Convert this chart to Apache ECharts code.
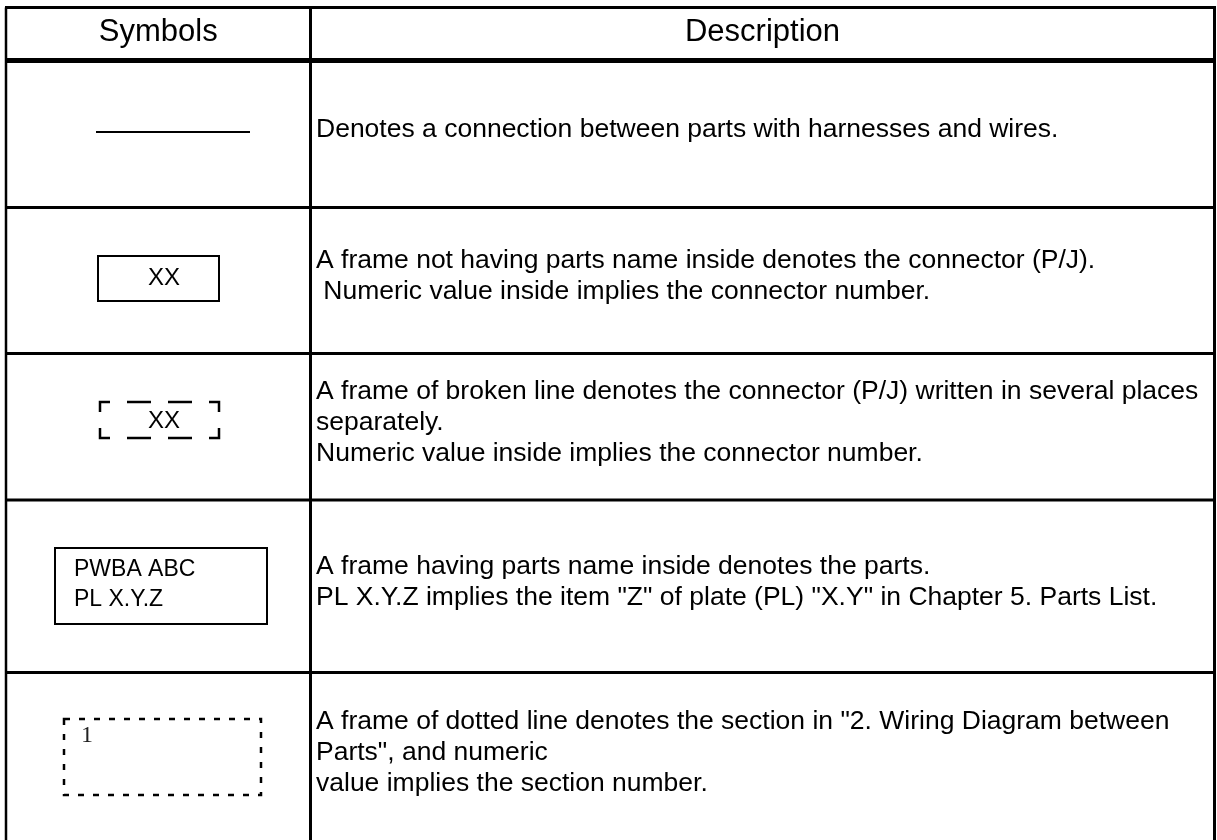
<!DOCTYPE html>
<html>
<head>
<meta charset="utf-8">
<script src="https://cdn.jsdelivr.net/npm/echarts@6/dist/echarts.min.js"></script>
<style>
html,body{margin:0;padding:0;background:#fff;}
#chart{width:1217px;height:840px;}
</style>
</head>
<body>
<div id="chart"></div>
<script>
// ---- content ----
const headers = ['Symbols', 'Description'];
const descriptions = [
  ['Denotes a connection between parts with harnesses and wires.'],
  ['A frame not having parts name inside denotes the connector (P/J).',
   ' Numeric value inside implies the connector number.'],
  ['A frame of broken line denotes the connector (P/J) written in several places',
   'separately.',
   'Numeric value inside implies the connector number.'],
  ['A frame having parts name inside denotes the parts.',
   'PL X.Y.Z implies the item "Z" of plate (PL) "X.Y" in Chapter 5. Parts List.'],
  ['A frame of dotted line denotes the section in "2. Wiring Diagram between',
   'Parts", and numeric',
   'value implies the section number.']
];
const symbolKinds = ['wire', 'connector', 'brokenConnector', 'part', 'section'];
const symbolTexts = ['', 'XX', 'XX', 'PWBA ABC\nPL X.Y.Z', '1'];

// ---- layout ----
const FONT = '"Liberation Sans", Arial, Helvetica, sans-serif';
const SERIF = '"Liberation Serif", "Times New Roman", serif';
const L = 6, DIV = 310.5, R = 1214.5, TOP = 7.5, HEAD = 60.5;
const rowLines = [207.5, 353.5, 500, 672.5];
const rowTops = [HEAD, 207.5, 353.5, 500, 672.5];
const rowBottoms = [207.5, 353.5, 500, 672.5, 840];
const descX = 316, descLH = 31, descSize = 26.5;

const g = [];
function line(x1, y1, x2, y2, w, dash) {
  g.push({type: 'line', shape: {x1, y1, x2, y2},
    style: {stroke: '#000', lineWidth: w, lineDash: dash || null}, silent: true});
}
// borders
line(L - 1, TOP, R + 1.5, TOP, 3);
line(L, TOP, L, 840, 2.5);
line(R, TOP, R, 840, 3);
line(DIV, TOP, DIV, 840, 3);
line(L, HEAD, R, HEAD, 5);
rowLines.forEach(y => line(L, y, R, y, 3));

// headers
g.push({type: 'text', x: (L + DIV) / 2, y: 32, silent: true,
  style: {text: headers[0], font: '31px ' + FONT, fill: '#000', align: 'center', verticalAlign: 'middle'}});
g.push({type: 'text', x: (DIV + R) / 2, y: 32, silent: true,
  style: {text: headers[1], font: '31px ' + FONT, fill: '#000', align: 'center', verticalAlign: 'middle'}});

// descriptions
descriptions.forEach((lines, i) => {
  const c = (rowTops[i] + rowBottoms[i]) / 2 - 4;
  g.push({type: 'text', x: descX, y: c, silent: true,
    style: {text: lines.join('\n'), font: descSize + 'px ' + FONT, fill: '#000',
      align: 'left', verticalAlign: 'middle', lineHeight: descLH}});
});

// symbols
symbolKinds.forEach((kind, i) => {
  const t = symbolTexts[i];
  if (kind === 'wire') {
    line(96, 132, 250, 132, 2);
  } else if (kind === 'connector') {
    g.push({type: 'rect', shape: {x: 98, y: 256, width: 121, height: 45}, silent: true,
      style: {fill: 'none', stroke: '#000', lineWidth: 2}});
    g.push({type: 'text', x: 164, y: 278, silent: true,
      style: {text: t, font: '24px ' + FONT, fill: '#000', align: 'center', verticalAlign: 'middle'}});
  } else if (kind === 'brokenConnector') {
    const x0 = 100, x1 = 219, y0 = 402, y1 = 438, c = 10;
    const pl = (pts) => g.push({type: 'polyline', shape: {points: pts}, silent: true,
      style: {fill: 'none', stroke: '#000', lineWidth: 2.5}});
    pl([[x0, y0 + c], [x0, y0], [x0 + c, y0]]);
    pl([[x1 - c, y0], [x1, y0], [x1, y0 + c]]);
    pl([[x0, y1 - c], [x0, y1], [x0 + c, y1]]);
    pl([[x1 - c, y1], [x1, y1], [x1, y1 - c]]);
    [[127, 151], [168, 192]].forEach(([a, b]) => { line(a, y0, b, y0, 2.5); line(a, y1, b, y1, 2.5); });
    g.push({type: 'text', x: 164, y: 421, silent: true,
      style: {text: t, font: '24px ' + FONT, fill: '#000', align: 'center', verticalAlign: 'middle'}});
  } else if (kind === 'part') {
    g.push({type: 'rect', shape: {x: 55, y: 548, width: 212, height: 76}, silent: true,
      style: {fill: 'none', stroke: '#000', lineWidth: 2}});
    g.push({type: 'text', x: 74, y: 585, silent: true,
      style: {text: t, font: '23px ' + FONT, fill: '#000', align: 'left', verticalAlign: 'middle', lineHeight: 30}});
  } else if (kind === 'section') {
    g.push({type: 'rect', shape: {x: 64, y: 719, width: 197, height: 76}, silent: true,
      style: {fill: 'none', stroke: '#000', lineWidth: 2.5, lineDash: [6, 9]}});
    g.push({type: 'text', x: 81, y: 736, silent: true,
      style: {text: t, font: '24px ' + SERIF, fill: '#222', align: 'left', verticalAlign: 'middle'}});
  }
});

const chart = echarts.init(document.getElementById('chart'), null, {renderer: 'canvas'});
chart.setOption({backgroundColor: '#fff', animation: false, graphic: {elements: g}});
</script>
</body>
</html>
